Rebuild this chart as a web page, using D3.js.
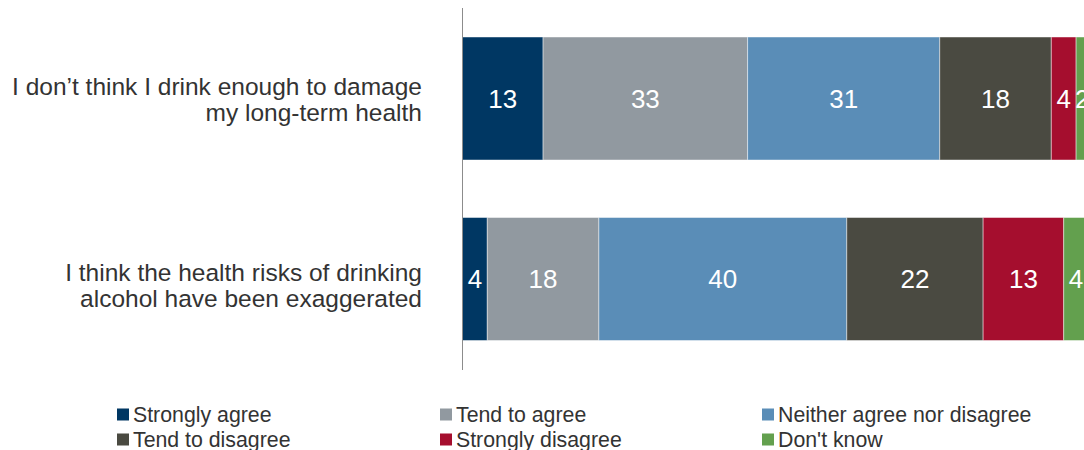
<!DOCTYPE html>
<html>
<head>
<meta charset="utf-8">
<script src="https://cdn.jsdelivr.net/npm/d3@7"></script>
<style>
  html, body { margin: 0; padding: 0; background: #fff; }
  svg { display: block; font-family: "Liberation Sans", Arial, sans-serif; }
</style>
</head>
<body>
<svg id="chart" width="1084" height="450"></svg>
<script>
// Survey statements (each drawn as one stacked bar)
const statements = [
  ["I don\u2019t think I drink enough to damage", "my long-term health"],
  ["I think the health risks of drinking", "alcohol have been exaggerated"]
];

// Response categories in stacking order
const responses = [
  "Strongly agree",
  "Tend to agree",
  "Neither agree nor disagree",
  "Tend to disagree",
  "Strongly disagree",
  "Don't know"
];

const colors = ["#003763", "#9199a0", "#5a8db7", "#4a4a41", "#a50e2e", "#63a04e"];

// Percentages per statement, same order as responses
const drinkEnough = [13, 33, 31, 18, 4, 2];
const risksExaggerated = [4, 18, 40, 22, 13, 4];
const values = [drinkEnough, risksExaggerated];

const svg = d3.select("#chart");

const x = d3.scaleLinear().domain([0, 101]).range([462.5, 1088.5]);
const y = d3.scaleBand().domain(d3.range(statements.length))
  .range([8, 369.5]).paddingInner(0.3186).paddingOuter(0.1607);

// vertical nudge of each two-line category label relative to its bar centre
const labelNudge = [-3.5, 2.5];

// Stack segments
values.forEach((row, i) => {
  let acc = 0;
  const segs = row.map((v, j) => {
    const s = { x0: acc, x1: acc + v, v, j };
    acc += v;
    return s;
  });
  const g = svg.append("g");
  g.selectAll("rect").data(segs).join("rect")
    .attr("x", d => x(d.x0))
    .attr("y", y(i))
    .attr("width", d => x(d.x1) - x(d.x0))
    .attr("height", y.bandwidth())
    .attr("fill", d => colors[d.j])
    .attr("stroke", "rgba(255,255,255,0.45)")
    .attr("stroke-width", 1);
  g.selectAll("text").data(segs).join("text")
    .attr("x", d => (x(d.x0) + x(d.x1)) / 2)
    .attr("y", y(i) + y.bandwidth() / 2)
    .attr("dy", "0.36em")
    .attr("text-anchor", "middle")
    .attr("fill", "#fff")
    .attr("font-size", 26)
    .text(d => d.v);

  // Category label, right aligned
  const lbl = svg.append("text")
    .attr("text-anchor", "end")
    .attr("fill", "#333")
    .attr("font-size", 24.5);
  statements[i].forEach((line, k) => {
    lbl.append("tspan")
      .attr("x", 422)
      .attr("y", y(i) + y.bandwidth() / 2 + labelNudge[i] + k * 26)
      .text(line);
  });
});

// Vertical axis line
svg.append("line")
  .attr("x1", 462.5).attr("x2", 462.5)
  .attr("y1", 8).attr("y2", 370)
  .attr("stroke", "#8c8c8c").attr("stroke-width", 1);

// Legend: three columns, two rows
const colX = [117, 440, 762];
const rowY = [421.5, 446.5];
const legend = svg.append("g");
responses.forEach((r, i) => {
  const cx = colX[i % 3], cy = rowY[Math.floor(i / 3)];
  legend.append("rect")
    .attr("x", cx).attr("y", cy - 13)
    .attr("width", 12).attr("height", 12)
    .attr("fill", colors[i]);
  legend.append("text")
    .attr("x", cx + 16).attr("y", cy)
    .attr("fill", "#333")
    .attr("font-size", 21.3)
    .text(r);
});
</script>
</body>
</html>
